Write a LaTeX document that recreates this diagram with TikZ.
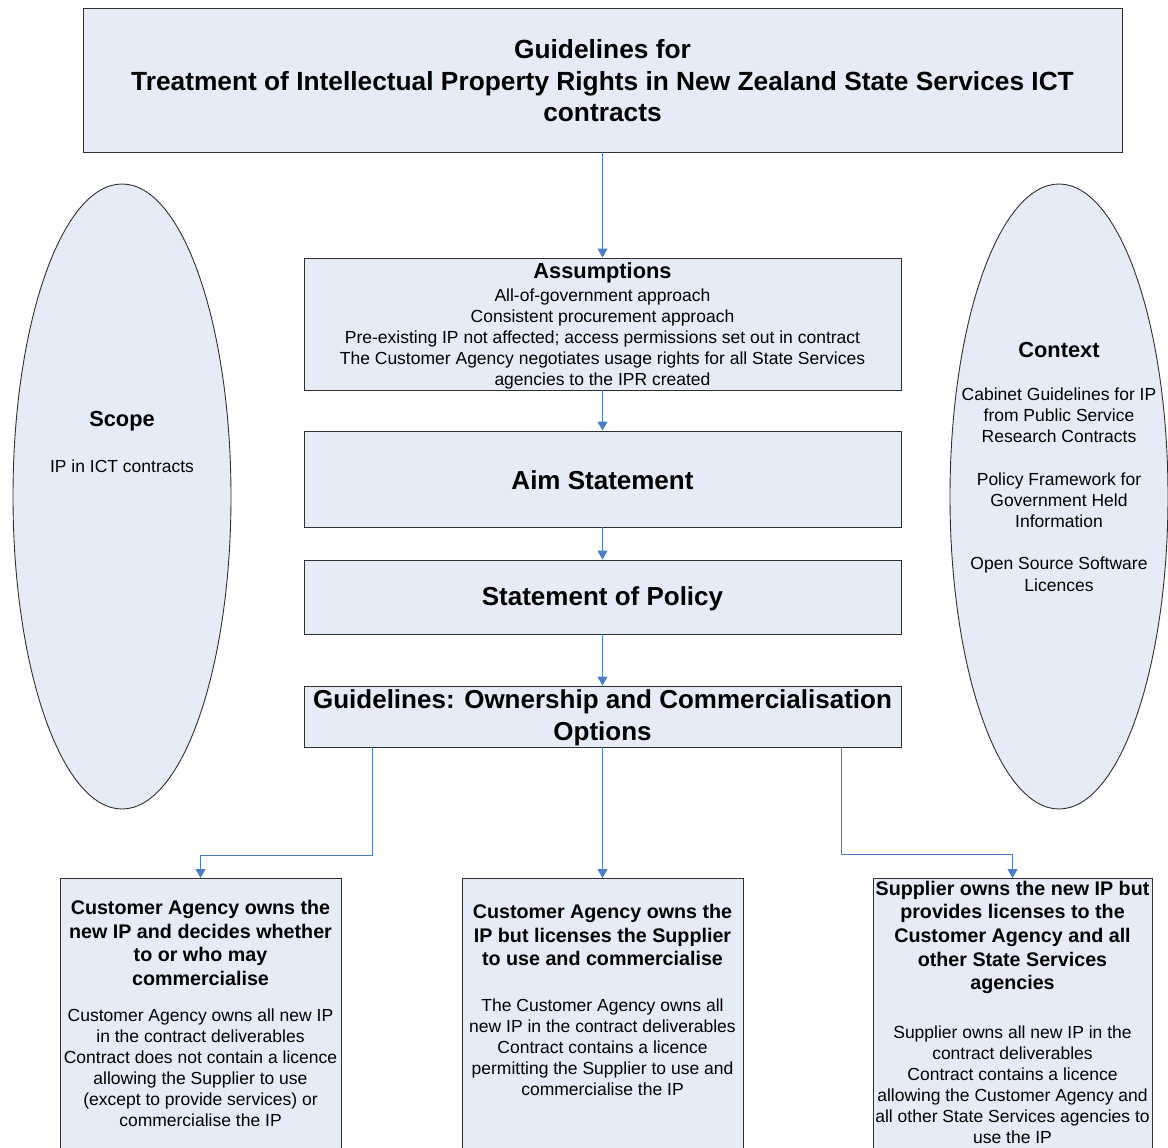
\documentclass[tikz,border=0pt]{standalone}
\usepackage{fontspec}
\setmainfont{Liberation Sans}
\usetikzlibrary{arrows.meta,shapes.geometric}
\definecolor{boxfill}{HTML}{E6ECF7}
\definecolor{linkblue}{HTML}{4A7EC6}
\definecolor{edgegray}{HTML}{303030}
\begin{document}
\begin{tikzpicture}[x=1pt,y=-1pt,
  box/.style={draw=edgegray, fill=boxfill, line width=0.9pt, rectangle, inner sep=0pt, align=center},
  oval/.style={draw=edgegray, fill=boxfill, line width=0.9pt, ellipse, inner sep=0pt},
  conn/.style={draw=linkblue, line width=0.9pt, -{Triangle[length=9pt,width=10pt]}},
  bigbold/.style={font=\fontsize{26}{31.5}\selectfont\bfseries, align=center, inner sep=0pt},
  midbold/.style={font=\fontsize{21.8}{26}\selectfont\bfseries, align=center, inner sep=0pt},
  headbold/.style={font=\fontsize{19.7}{23.6}\selectfont\bfseries, align=center},
  body/.style={font=\fontsize{17.5}{21}\selectfont, align=center, inner sep=0pt}]
\useasboundingbox (0,0) rectangle (1168,1148);
\clip (0,0) rectangle (1168,1148);

% ellipses
\node[oval, minimum width=218pt, minimum height=625pt] (scope) at (122,496.5) {};
\node[midbold] (scopetitle) at (122,421) {Scope};
\node[body] (scopetext) at (122,466) {IP in ICT contracts};

\node[oval, minimum width=218pt, minimum height=625pt] (context) at (1059,496.5) {};
\node[midbold] (contexttitle) at (1059,350) {Context};
\node[body, font=\fontsize{17.5}{21.2}\selectfont] (contexttext) at (1059,489.5) {Cabinet Guidelines for IP\\from Public Service\\Research Contracts\\ \mbox{}\\Policy Framework for\\Government Held\\Information\\ \mbox{}\\Open Source Software\\Licences};

% main column
\node[box, minimum width=1039pt, minimum height=144pt] (title) at (602.5,80) {};
\node[bigbold, font=\fontsize{26.3}{31.5}\selectfont\bfseries] (titletext) at (602.5,81)
  {Guidelines for\\Treatment of Intellectual Property Rights in New Zealand State Services ICT\\contracts};

\node[box, minimum width=597pt, minimum height=132pt] (assump) at (602.5,324) {};
\node[midbold] (assumptitle) at (602.5,273) {Assumptions};
\node[body] (assumptext) at (602.5,339) {All-of-government approach\\Consistent procurement approach\\Pre-existing IP not affected; access permissions set out in contract\\The Customer Agency negotiates usage rights for all State Services\\agencies to the IPR created};

\node[box, minimum width=597pt, minimum height=96pt] (aim) at (602.5,479) {};
\node[bigbold] (aimtext) at (602.5,480) {Aim Statement};
\node[box, minimum width=597pt, minimum height=74pt] (policy) at (602.5,597) {};
\node[bigbold] (policytext) at (602.5,599) {Statement of Policy};
\node[box, minimum width=597pt, minimum height=61pt] (guide) at (602.5,716.5) {};
\node[bigbold, font=\fontsize{26}{32}\selectfont\bfseries] (guidetext) at (602.5,718) {Guidelines: Ownership and Commercialisation\\Options};

% bottom boxes
\node[box, anchor=north, minimum width=281pt, minimum height=320pt] (left) at (200.5,878) {};
\node[headbold] (lefthead) at (200.5,943) {Customer Agency owns the\\new IP and decides whether\\to or who may\\commercialise};
\node[body] (lefttext) at (200.5,1067.5) {Customer Agency owns all new IP\\in the contract deliverables\\Contract does not contain a licence\\allowing the Supplier to use\\(except to provide services) or\\commercialise the IP};

\node[box, anchor=north, minimum width=281pt, minimum height=320pt] (mid) at (602.5,878) {};
\node[headbold] (midhead) at (602.5,935) {Customer Agency owns the\\IP but licenses the Supplier\\to use and commercialise};
\node[body] (midtext) at (602.5,1047) {The Customer Agency owns all\\new IP in the contract deliverables\\Contract contains a licence\\permitting the Supplier to use and\\commercialise the IP};

\node[box, anchor=north, minimum width=279pt, minimum height=320pt] (right) at (1012.5,878) {};
\node[headbold] (righthead) at (1012.5,937.5) {Supplier owns the new IP but\\provides licenses to the\\Customer Agency and all\\other State Services\\agencies};
\node[body] (righttext) at (1012.5,1084.5) {Supplier owns all new IP in the\\contract deliverables\\Contract contains a licence\\allowing the Customer Agency and\\all other State Services agencies to\\use the IP};

% connectors
\draw[conn] (title) -- (assump);
\draw[conn] (assump) -- (aim);
\draw[conn] (aim) -- (policy);
\draw[conn] (policy) -- (guide);
\draw[conn] (guide) -- (mid);
\coordinate (gl) at (372,747);
\coordinate (gr) at (841,747);
\draw[conn] (gl) -- ++(0,108) -| (left.north);
\draw[conn] (gr) -- ++(0,107) -| (right.north);
\end{tikzpicture}
\end{document}
